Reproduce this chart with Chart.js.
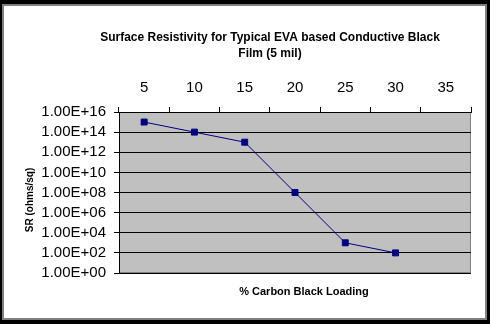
<!DOCTYPE html>
<html>
<head>
<meta charset="utf-8">
<script src="https://cdn.jsdelivr.net/npm/chart.js@4.4.1/dist/chart.umd.min.js"></script>
<style>
  html, body { margin: 0; padding: 0; background: #000; width: 490px; height: 324px; overflow: hidden; }
  #frame { position: absolute; left: 2px; top: 4px; width: 485px; height: 316px; box-sizing: border-box;
           border: 2px solid #808080; background: #fff; }
  #wrap { position: absolute; left: 0; top: 0; width: 490px; height: 324px; }
</style>
</head>
<body>
<div id="frame"></div>
<div id="wrap"><canvas id="c"></canvas></div>
<script>
const categories = ['5', '10', '15', '20', '25', '30', '35'];
const srValues = [1e15, 1e14, 1e13, 1e8, 1e3, 1e2, null];
const yTickValues = [1, 1e2, 1e4, 1e6, 1e8, 1e10, 1e12, 1e14, 1e16];
const yTickLabels = ['1.00E+00', '1.00E+02', '1.00E+04', '1.00E+06', '1.00E+08', '1.00E+10', '1.00E+12', '1.00E+14', '1.00E+16'];
const titleLines = ['Surface Resistivity for Typical EVA based Conductive Black', 'Film (5 mil)'];
const xTitle = '% Carbon Black Loading';
const yTitle = 'SR (ohms/sq)';

const FONT = "'Liberation Sans', Arial, sans-serif";

const plotBg = {
  id: 'plotBg',
  beforeDraw(chart) {
    const a = chart.chartArea, ctx = chart.ctx;
    ctx.save();
    ctx.fillStyle = '#c0c0c0';
    ctx.fillRect(a.left, a.top, a.right - a.left, a.bottom - a.top);
    ctx.strokeStyle = '#808080';
    ctx.lineWidth = 1;
    ctx.strokeRect(a.left + 0.5, a.top + 0.5, a.right - a.left - 1, a.bottom - a.top - 1);
    ctx.restore();
  }
};

const texts = {
  id: 'texts',
  afterDraw(chart) {
    const ctx = chart.ctx;
    ctx.save();
    ctx.fillStyle = '#000';
    ctx.textAlign = 'center';
    ctx.textBaseline = 'middle';
    ctx.font = 'bold 12px ' + FONT;
    ctx.fillText(titleLines[0], 270, 38);
    ctx.fillText(titleLines[1], 270, 54);
    ctx.font = 'bold 11px ' + FONT;
    ctx.fillText(xTitle, 304, 292);
    ctx.translate(30, 200);
    ctx.rotate(-Math.PI / 2);
    ctx.font = 'bold 10px ' + FONT;
    ctx.fillText(yTitle, 0, 0);
    ctx.restore();
  }
};

new Chart(document.getElementById('c'), {
  type: 'line',
  data: {
    labels: categories,
    datasets: [{
      data: srValues,
      borderColor: '#000080',
      borderWidth: 1,
      backgroundColor: '#000080',
      pointStyle: 'rect',
      pointRadius: 4.2,
      pointBorderWidth: 1,
      pointBorderColor: '#000080',
      pointBackgroundColor: '#000080',
      tension: 0,
      spanGaps: false
    }]
  },
  options: {
    responsive: true,
    maintainAspectRatio: false,
    animation: false,
    layout: { padding: { left: 0, right: 19, top: 0, bottom: 51 } },
    plugins: { legend: { display: false }, title: { display: false }, tooltip: { enabled: false } },
    scales: {
      x: {
        type: 'category',
        position: 'top',
        offset: true,
        grid: { display: true, drawOnChartArea: false, drawTicks: true, tickLength: 5, color: '#000', offset: true, lineWidth: 1 },
        border: { display: true, color: '#000', width: 1 },
        ticks: { color: '#000', font: { family: FONT, size: 15 }, padding: 10, maxRotation: 0, autoSkip: false },
        afterFit(scale) { scale.height = 112; }
      },
      y: {
        type: 'logarithmic',
        position: 'left',
        min: 1,
        max: 1e16,
        afterBuildTicks(scale) { scale.ticks = yTickValues.map(v => ({ value: v, major: false })); },
        grid: { display: true, drawOnChartArea: true, drawTicks: true, tickLength: 5, color: '#000', lineWidth: 1 },
        border: { display: true, color: '#000', width: 1 },
        ticks: {
          color: '#000', font: { family: FONT, size: 15 }, padding: 8, autoSkip: false,
          callback(value) { const i = yTickValues.indexOf(value); return i >= 0 ? yTickLabels[i] : ''; }
        },
        afterFit(scale) { scale.width = 119; }
      }
    }
  },
  plugins: [plotBg, texts]
});
</script>
</body>
</html>
